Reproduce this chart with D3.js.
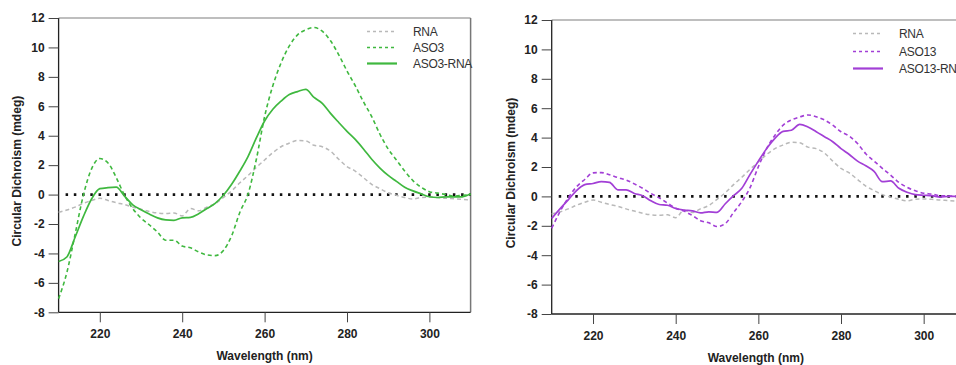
<!DOCTYPE html>
<html>
<head>
<meta charset="utf-8">
<script src="https://cdn.jsdelivr.net/npm/d3@7"></script>
<style>
  html, body { margin: 0; padding: 0; background: #fff; overflow: hidden; }
  svg { display: block; }
  text { font-family: "Liberation Sans", Arial, sans-serif; }
</style>
</head>
<body>
<svg id="chart" width="956" height="365"></svg>
<script>
// ---- data ----
const wavelengths = [210,212,214,216,218,220,222,224,226,228,230,232,234,236,238,240,242,244,246,248,250,252,254,256,258,260,262,264,266,268,270,272,274,276,278,280,282,284,286,288,290,292,294,296,298,300,302,304,306,308,310];

const rna = [-1.2,-1.05,-0.85,-0.6,-0.4,-0.25,-0.4,-0.55,-0.68,-0.85,-1.0,-1.15,-1.25,-1.28,-1.25,-1.45,-0.95,-1.1,-0.85,-0.62,-0.2,0.25,0.8,1.3,1.85,2.35,2.85,3.25,3.5,3.68,3.65,3.35,3.25,2.95,2.4,1.9,1.6,1.15,0.7,0.4,0.12,-0.05,-0.2,-0.3,-0.2,-0.18,-0.2,-0.25,-0.28,-0.32,-0.38];

const aso3 = [-7.07,-5.3,-2.7,-0.05,1.75,2.45,2.15,1.15,-0.05,-0.95,-1.6,-2.05,-2.55,-3.1,-3.1,-3.5,-3.62,-3.9,-4.1,-4.15,-3.8,-2.8,-1.2,0.05,2.4,5.3,7.4,8.95,10.1,10.85,11.2,11.35,11.1,10.45,9.5,8.4,7.4,6.3,5.3,4.1,3.1,2.35,1.6,0.95,0.5,0.2,0.1,0.0,-0.1,-0.05,0.0];

const aso3Rna = [-4.55,-4.24,-2.9,-1.5,-0.3,0.4,0.47,0.5,-0.1,-0.7,-1.03,-1.32,-1.58,-1.72,-1.75,-1.58,-1.55,-1.3,-0.95,-0.6,-0.05,0.7,1.6,2.6,3.85,5.0,5.8,6.35,6.8,7.0,7.15,6.6,6.2,5.52,4.9,4.3,3.75,3.1,2.4,1.8,1.3,0.9,0.5,0.25,0.05,-0.15,-0.2,-0.15,-0.15,-0.15,0.05];

const aso13 = [-2.17,-1.04,-0.1,0.65,1.15,1.6,1.62,1.47,1.28,1.12,0.85,0.55,0.2,-0.1,-0.45,-0.8,-1.0,-1.3,-1.65,-1.8,-2.05,-1.85,-1.1,-0.35,0.6,2.02,3.25,4.15,4.85,5.2,5.4,5.54,5.42,5.2,4.85,4.4,4.1,3.6,2.9,2.4,1.91,1.45,0.95,0.62,0.38,0.22,0.16,0.05,0.03,0.0,-0.02];

const aso13Rna = [-1.5,-0.85,-0.24,0.4,0.8,0.88,1.0,0.95,0.45,0.45,0.2,0.05,-0.3,-0.55,-0.6,-0.82,-0.93,-0.98,-1.12,-1.05,-1.08,-0.5,0.05,0.55,1.5,2.4,3.25,3.95,4.42,4.5,4.9,4.72,4.4,4.06,3.72,3.25,2.85,2.4,2.08,1.7,1.0,1.05,0.55,0.28,0.12,0.08,0.05,-0.05,0.0,0.0,-0.02];

const xTicks = [220, 240, 260, 280, 300];
const yTicks = [-8, -6, -4, -2, 0, 2, 4, 6, 8, 10, 12];
const xDomain = [210, 310];
const yDomain = [-8, 12];
const zeroDotsStart = 212;

const leftLabels = ["RNA", "ASO3", "ASO3-RNA"];
const rightLabels = ["RNA", "ASO13", "ASO13-RNA"];
const xTitle = "Wavelength (nm)";
const yTitle = "Circular Dichroism (mdeg)";

// ---- styles ----
const GRAY = "#b9b9b9";
const GREEN = "#3fb83f";
const PURPLE = "#a23fd6";

const svg = d3.select("#chart");
const fmt = d => String(d); // plain hyphen-minus like the reference

function panel(cfg) {
  const x = d3.scaleLinear().domain(xDomain).range([cfg.x0, cfg.x1]);
  const y = d3.scaleLinear().domain(yDomain).range([cfg.y1, cfg.y0]);
  const g = svg.append("g");

  // frame top & right
  g.append("line").attr("x1", cfg.x0).attr("x2", cfg.x1).attr("y1", cfg.y0).attr("y2", cfg.y0)
    .attr("stroke", "#a8a8a8").attr("stroke-width", 1.5);
  g.append("line").attr("x1", cfg.x1).attr("x2", cfg.x1).attr("y1", cfg.y0).attr("y2", cfg.y1)
    .attr("stroke", "#777").attr("stroke-width", 1.5);

  // axes
  const yAxis = d3.axisLeft(y).tickValues(yTicks).tickSize(10).tickPadding(4).tickFormat(fmt);
  const ya = g.append("g").attr("transform", `translate(${cfg.x0},0)`).call(yAxis);
  const xAxis = d3.axisBottom(x).tickValues(xTicks).tickSize(10).tickPadding(7).tickFormat(fmt);
  const xa = g.append("g").attr("transform", `translate(0,${cfg.y1})`).call(xAxis);
  [ya, xa].forEach(a => {
    a.select(".domain").attr("stroke", "#222").attr("stroke-width", 1.3);
    a.selectAll(".tick line").attr("stroke", "#444").attr("stroke-width", 1);
    a.selectAll(".tick text").attr("font-size", 12).attr("font-weight", "bold").attr("fill", "#222")
      .attr("font-family", "'Liberation Sans', Arial, sans-serif");
  });
  xa.select(".domain").attr("d", `M${cfg.x0},0H${cfg.x1}`);
  ya.select(".domain").attr("d", `M0,${cfg.y1}V${cfg.y0}`);

  // titles
  g.append("text").attr("x", (cfg.x0 + cfg.x1c) / 2).attr("y", cfg.y1 + 48)
    .attr("text-anchor", "middle").attr("font-size", 12).attr("font-weight", "bold").attr("fill", "#222")
    .text(xTitle);
  g.append("text").attr("transform", `translate(${cfg.ytx},${(cfg.y0 + cfg.y1) / 2 + 6}) rotate(-90)`)
    .attr("text-anchor", "middle").attr("font-size", 12).attr("font-weight", "bold").attr("fill", "#222")
    .text(yTitle);

  // zero reference dotted line
  const step = x(zeroDotsStart + 2) - x(zeroDotsStart);
  g.append("line").attr("x1", x(zeroDotsStart) - 1.25).attr("x2", x(xDomain[1]))
    .attr("y1", y(0)).attr("y2", y(0))
    .attr("stroke", "#111").attr("stroke-width", 2.6)
    .attr("stroke-dasharray", `2.5,${(step - 2.5).toFixed(2)}`);

  const line = d3.line().x((d, i) => x(wavelengths[i])).y(d => y(d)).curve(d3.curveMonotoneX);

  const series = [
    { data: rna, color: GRAY, dash: "4,3", w: 1.5 },
    { data: cfg.aso, color: cfg.color, dash: "4,3", w: 1.6 },
    { data: cfg.duplex, color: cfg.color, dash: null, w: 1.7 }
  ];
  series.forEach(s => {
    g.append("path").datum(s.data).attr("d", line).attr("fill", "none")
      .attr("stroke", s.color).attr("stroke-width", s.w)
      .attr("stroke-dasharray", s.dash);
  });

  // legend
  series.forEach((s, i) => {
    const ly = cfg.ly[i];
    const seg = g.append("line").attr("x1", cfg.lx).attr("x2", cfg.lx + 30).attr("y1", ly).attr("y2", ly)
      .style("stroke", s.color).attr("stroke-width", s.dash ? 1.5 : 2.2);
    if (s.dash) seg.attr("stroke-dasharray", "3,3");
    g.append("text").attr("x", cfg.lx + 46).attr("y", ly + 4.5)
      .attr("font-size", 12).attr("fill", "#333").attr("letter-spacing", "-0.3")
      .text(cfg.labels[i]);
  });
}

panel({ x0: 58.6, x1: 470.6, x1c: 470.6, y0: 18, y1: 312.3, ytx: 21,
  aso: aso3, duplex: aso3Rna, color: GREEN, labels: leftLabels,
  lx: 367, ly: [31.5, 47.5, 63.5] });

panel({ x0: 551.7, x1: 965, x1c: 960, y0: 20, y1: 314, ytx: 515,
  aso: aso13, duplex: aso13Rna, color: PURPLE, labels: rightLabels,
  lx: 853, ly: [33.5, 51.5, 68.5] });
</script>
</body>
</html>
